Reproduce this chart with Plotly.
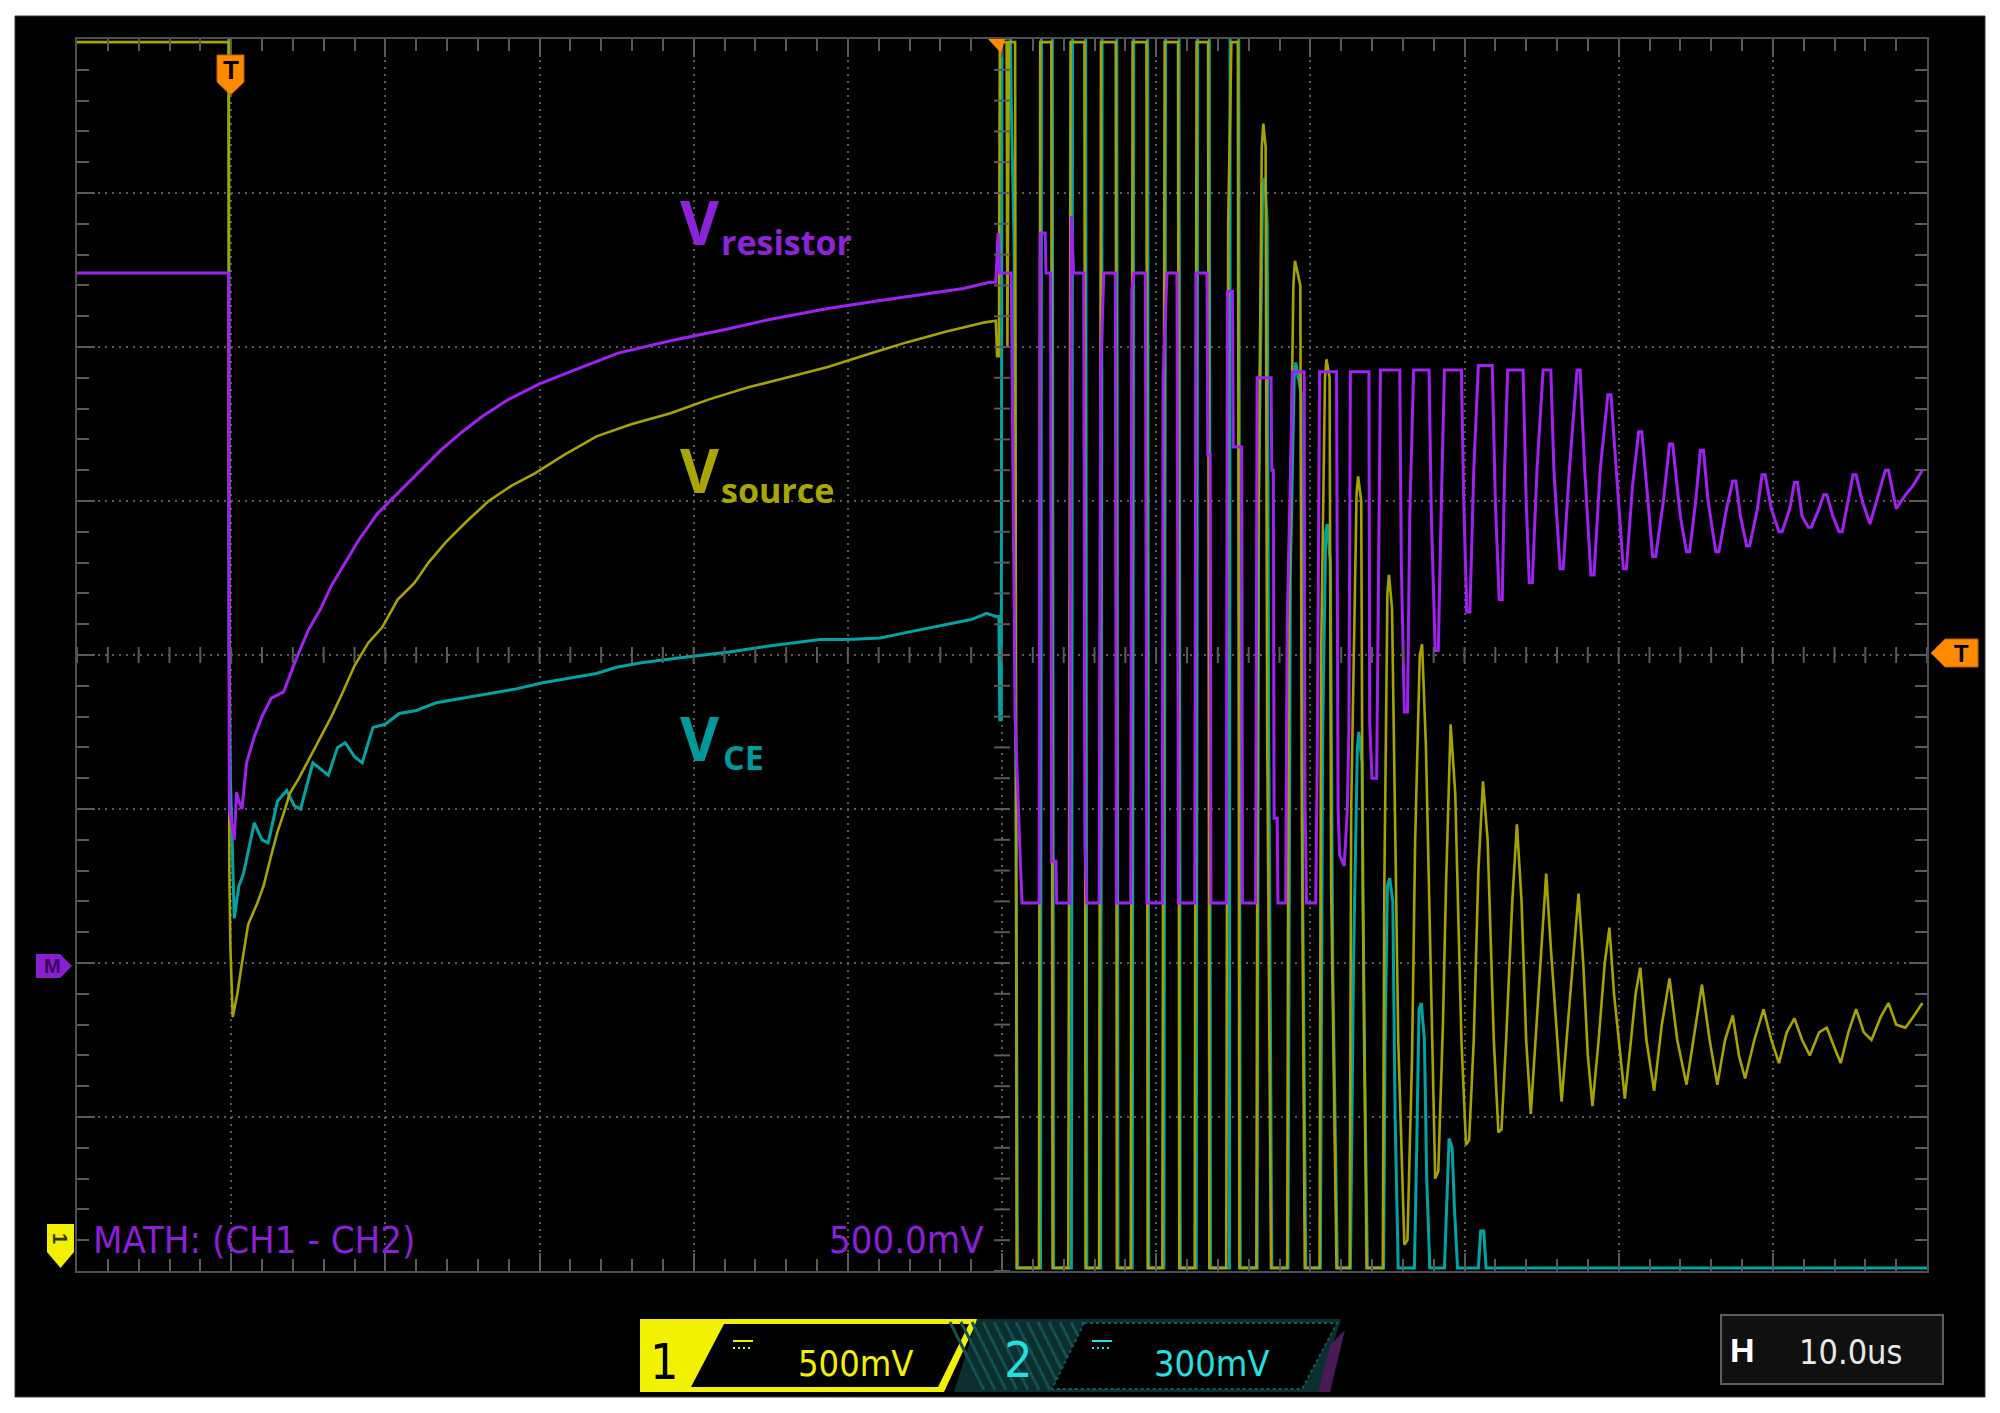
import plotly.graph_objects as go

# ======================
# Oscilloscope capture: 10 us/div (12 div), traces in divisions (8 div)
# ======================

# CH1 - V_source (yellow), (time us, divisions)
vsource_pts = [
    (0.0, 3.98), (9.84, 3.98), (9.88, -1.4), (9.95, -1.9), (10.1, -2.35), (10.4, -2.2),
    (10.7, -2.0), (11.1, -1.75), (11.7, -1.61), (12.1, -1.5), (12.6, -1.3), (13.0, -1.15),
    (13.4, -1.03), (13.8, -0.9), (14.4, -0.8), (15.2, -0.65), (15.8, -0.53), (16.5, -0.4),
    (17.2, -0.25), (18.0, -0.07), (18.9, 0.08), (19.8, 0.18), (20.8, 0.36), (21.9, 0.47),
    (22.8, 0.6), (23.9, 0.73), (25.2, 0.86), (26.7, 1.0), (28.2, 1.1), (29.7, 1.18),
    (31.6, 1.3), (33.7, 1.42), (36.0, 1.5), (38.5, 1.57), (41.0, 1.66), (43.6, 1.74),
    (46.0, 1.8), (48.7, 1.87), (51.2, 1.95), (53.8, 2.03), (56.4, 2.1), (58.9, 2.16),
    (59.6, 2.17), (59.68, 1.94), (59.8, 1.94),
    # switching burst
    (59.86, 3.98), (60.3, 3.98), (60.35, 2.0), (60.45, 3.98), (60.85, 3.98), (60.95, -3.98),
    (62.4, -3.98), (62.48, 3.98), (63.2, 3.98), (63.28, -3.98), (64.3, -3.98), (64.45, 3.98),
    (65.35, 3.98), (65.42, -3.98), (66.3, -3.98), (66.42, 3.98), (67.38, 3.98), (67.45, -3.98),
    (68.35, -3.98), (68.47, 3.98), (69.37, 3.98), (69.45, -3.98), (70.4, -3.98), (70.55, 3.98),
    (71.42, 3.98), (71.5, -3.98), (72.5, -3.98), (72.62, 3.98), (73.37, 3.98), (73.45, -3.98),
    (74.55, -3.98), (74.67, 2.8), (74.88, 3.98), (75.3, 3.98), (75.4, -3.98),
    # damped ringing
    (76.5, -3.98), (76.6, 0.5), (76.85, 3.3), (76.95, 3.45), (77.1, 3.3), (77.2, -0.5),
    (77.45, -3.98), (78.5, -3.98), (78.6, 0.2), (78.9, 2.4), (79.0, 2.56), (79.35, 2.4),
    (79.45, -1.0), (79.64, -3.98), (80.6, -3.98), (80.7, 0.0), (80.95, 1.8), (81.05, 1.92),
    (81.25, 1.8), (81.35, -1.5), (81.7, -3.98), (82.55, -3.98), (82.65, -1.0), (83.0, 1.05),
    (83.1, 1.16), (83.3, 1.0), (83.4, -1.5), (83.65, -3.98), (84.7, -3.98), (84.8, -1.5),
    (85.0, 0.4), (85.1, 0.52), (85.3, 0.3), (85.7, -2.5), (86.1, -3.83), (86.3, -3.8),
    (86.6, -2.6), (86.8, -1.2), (87.1, 0.0), (87.25, 0.07), (87.5, -0.6), (87.9, -2.5),
    (88.1, -3.4), (88.3, -3.35), (88.6, -2.4), (88.8, -1.5), (89.1, -0.45), (89.4, -0.9),
    (89.8, -2.5), (90.1, -3.18), (90.3, -3.15), (90.6, -2.5), (90.9, -1.4), (91.2, -0.82),
    (91.5, -1.2), (91.9, -2.5), (92.2, -3.1), (92.4, -3.08), (92.7, -2.5), (93.1, -1.6),
    (93.4, -1.1), (93.7, -1.6), (94.0, -2.5), (94.3, -2.98), (94.6, -2.5), (95.0, -1.9),
    (95.3, -1.42), (95.6, -1.9), (96.0, -2.5), (96.3, -2.9), (96.7, -2.4), (97.1, -1.9),
    (97.4, -1.55), (97.7, -2.0), (98.0, -2.6), (98.3, -2.93), (98.7, -2.5), (99.1, -2.0),
    (99.4, -1.77), (99.7, -2.2), (100.1, -2.6), (100.4, -2.88), (100.8, -2.5), (101.1, -2.2),
    (101.4, -2.03), (101.8, -2.5), (102.3, -2.83), (102.8, -2.4), (103.3, -2.1), (103.8, -2.5),
    (104.4, -2.79), (104.9, -2.45), (105.4, -2.14), (105.9, -2.5), (106.4, -2.79),
    (106.9, -2.5), (107.4, -2.34), (107.8, -2.6), (108.2, -2.75), (108.8, -2.5),
    (109.4, -2.3), (109.9, -2.5), (110.4, -2.65), (110.9, -2.45), (111.4, -2.36),
    (111.9, -2.5), (112.4, -2.6), (113.0, -2.45), (113.5, -2.42), (114.0, -2.55),
    (114.4, -2.65), (114.9, -2.45), (115.4, -2.3), (115.9, -2.45), (116.4, -2.5),
    (117.0, -2.35), (117.5, -2.26), (118.0, -2.4), (118.6, -2.42), (119.1, -2.35),
    (119.7, -2.26),
]

# CH2 - V_CE (teal)
vce_pts = [
    (0.0, 4.6), (9.84, 4.6), (9.86, 0.12), (9.95, -0.8), (10.2, -1.71), (10.5, -1.5),
    (10.8, -1.42), (11.5, -1.09), (12.0, -1.2), (12.4, -1.22), (13.0, -0.95), (13.6, -0.88),
    (14.1, -0.98), (14.5, -1.0), (15.3, -0.7), (15.8, -0.74), (16.3, -0.78), (16.9, -0.6),
    (17.4, -0.57), (18.0, -0.66), (18.5, -0.7), (19.2, -0.47), (20.0, -0.45), (20.9, -0.38),
    (22.0, -0.36), (23.3, -0.31), (25.0, -0.28), (26.7, -0.25), (28.5, -0.22), (30.2, -0.18),
    (32.0, -0.15), (33.7, -0.12), (35.0, -0.08), (36.6, -0.05), (39.0, -0.02), (42.3, 0.02),
    (45.0, 0.06), (48.2, 0.1), (50.0, 0.1), (52.1, 0.11), (54.0, 0.15), (56.0, 0.19),
    (58.0, 0.23), (59.0, 0.27), (59.6, 0.25), (59.8, 0.25), (59.86, -0.42), (59.95, -0.42),
    (60.0, 4.5), (60.5, 4.5), (60.6, 3.57), (60.8, 2.6), (60.9, -0.6), (61.0, -3.98),
    (62.5, -3.98), (62.56, 4.5), (63.26, 4.5), (63.34, -3.98), (64.5, -3.98), (64.58, 4.5),
    (65.42, 4.5), (65.5, -3.98), (66.4, -3.98), (66.5, 4.5), (67.44, 4.5), (67.52, -3.98),
    (68.45, -3.98), (68.55, 4.5), (69.44, 4.5), (69.52, -3.98), (70.5, -3.98), (70.62, 4.5),
    (71.48, 4.5), (71.56, -3.98), (72.6, -3.98), (72.7, 4.5), (73.44, 4.5), (73.52, -3.98),
    (74.75, -3.98), (74.8, 4.5), (75.35, 4.5), (75.45, -3.98), (76.55, -3.98), (76.65, 1.0),
    (76.9, 3.0), (77.05, 3.1), (77.2, 2.8), (77.3, -0.5), (77.5, -3.98), (78.55, -3.98),
    (78.7, 0.5), (78.95, 1.8), (79.05, 1.9), (79.4, 1.7), (79.5, -1.5), (79.7, -3.98),
    (80.65, -3.98), (80.8, -0.5), (81.0, 0.8), (81.1, 0.85), (81.3, 0.6), (81.45, -2.0),
    (81.75, -3.98), (82.6, -3.98), (82.8, -2.0), (83.05, -0.6), (83.15, -0.5), (83.35, -0.7),
    (83.5, -2.5), (83.7, -3.98), (84.75, -3.98), (84.85, -2.5), (85.0, -1.5), (85.15, -1.45),
    (85.35, -1.6), (85.5, -3.0), (85.7, -3.98), (86.75, -3.98), (86.9, -3.2), (87.05, -2.3),
    (87.2, -2.26), (87.4, -2.5), (87.55, -3.4), (87.75, -3.98), (88.7, -3.98), (88.85, -3.6),
    (89.0, -3.14), (89.2, -3.2), (89.35, -3.6), (89.55, -3.98), (90.9, -3.98), (91.05, -3.74),
    (91.25, -3.74), (91.4, -3.98), (120.0, -3.98),
]

# MATH (CH1 - CH2) - V_resistor (purple)
vres_pts = [
    (0.0, 2.48), (9.84, 2.48), (9.88, -1.0), (10.2, -1.2), (10.35, -0.89), (10.5, -0.95),
    (10.7, -1.0), (11.0, -0.7), (11.5, -0.53), (12.0, -0.4), (12.6, -0.28), (13.4, -0.24),
    (14.2, -0.03), (15.0, 0.16), (15.8, 0.3), (16.5, 0.45), (17.1, 0.55), (18.3, 0.75),
    (19.5, 0.92), (21.2, 1.09), (22.5, 1.22), (23.6, 1.33), (25.0, 1.45), (26.3, 1.55),
    (28.0, 1.66), (30.0, 1.76), (32.5, 1.86), (35.1, 1.96), (38.5, 2.04), (41.9, 2.11),
    (45.0, 2.18), (48.7, 2.25), (52.0, 2.3), (55.4, 2.35), (57.5, 2.38), (59.2, 2.42),
    (59.6, 2.42), (59.75, 2.74), (59.85, 2.48),
    # switching burst
    (60.6, 2.48), (60.7, 1.4), (60.85, -0.4), (61.2, -1.37), (61.3, -1.61), (62.41, -1.61),
    (62.48, 2.74), (62.8, 2.74), (62.85, 2.48), (63.15, 2.48), (63.22, -1.34), (63.5, -1.34),
    (63.55, -1.61), (64.4, -1.61), (64.5, 2.85), (64.65, 2.48), (65.3, 2.48), (65.38, -1.22),
    (65.5, -1.61), (66.3, -1.61), (66.4, 1.84), (66.6, 2.48), (67.35, 2.48), (67.42, -1.61),
    (68.35, -1.61), (68.42, 2.36), (68.55, 2.48), (69.3, 2.48), (69.4, -1.61), (70.4, -1.61),
    (70.45, 1.8), (70.7, 2.48), (71.35, 2.48), (71.45, -1.61), (72.5, -1.61), (72.58, 2.48),
    (73.3, 2.48), (73.35, 1.3), (73.5, 1.3), (73.55, -1.61), (74.55, -1.61), (74.62, 2.36),
    (74.95, 2.36), (75.0, 1.35), (75.55, 1.35), (75.6, -1.61),
    # damped ringing
    (76.45, -1.61), (76.55, 1.8), (77.45, 1.8), (77.5, 1.2), (77.6, 1.2), (77.65, -1.06),
    (77.85, -1.06), (77.9, -1.61), (78.4, -1.61), (78.5, 0.2), (78.7, 1.23), (78.85, 1.84),
    (79.6, 1.84), (79.65, -0.9), (79.75, -1.61), (80.35, -1.61), (80.45, -0.67), (80.6, 1.84),
    (81.7, 1.84), (81.8, -1.0), (81.9, -1.3), (82.2, -1.37), (82.4, -1.0), (82.5, -0.48),
    (82.6, 1.84), (83.8, 1.84), (83.85, -0.44), (84.0, -0.8), (84.3, -0.8), (84.45, 1.0),
    (84.55, 1.85), (85.8, 1.85), (85.9, 0.6), (86.1, -0.37), (86.3, -0.37), (86.45, 0.9),
    (86.7, 1.85), (87.7, 1.85), (87.85, 0.9), (88.1, 0.03), (88.3, 0.03), (88.5, 1.0),
    (88.7, 1.85), (89.8, 1.85), (89.95, 1.0), (90.15, 0.28), (90.35, 0.28), (90.6, 1.2),
    (90.9, 1.88), (91.8, 1.88), (92.0, 1.0), (92.25, 0.36), (92.45, 0.36), (92.6, 1.2),
    (92.8, 1.85), (93.8, 1.85), (94.0, 1.0), (94.2, 0.47), (94.4, 0.47), (94.7, 1.2),
    (95.1, 1.85), (95.6, 1.85), (95.8, 1.2), (96.2, 0.56), (96.4, 0.56), (96.8, 1.2),
    (97.3, 1.85), (97.5, 1.85), (97.8, 1.2), (98.2, 0.52), (98.4, 0.52), (98.8, 1.2),
    (99.3, 1.69), (99.5, 1.69), (99.9, 1.1), (100.3, 0.56), (100.5, 0.56), (100.9, 1.1),
    (101.3, 1.45), (101.5, 1.45), (101.9, 1.0), (102.2, 0.64), (102.4, 0.64), (102.9, 1.0),
    (103.3, 1.37), (103.5, 1.37), (104.0, 0.9), (104.4, 0.67), (104.6, 0.67), (105.0, 1.0),
    (105.3, 1.33), (105.5, 1.33), (105.8, 1.0), (106.3, 0.67), (106.5, 0.67), (107.0, 0.95),
    (107.4, 1.13), (107.6, 1.13), (107.9, 0.9), (108.3, 0.71), (108.5, 0.71), (109.0, 0.95),
    (109.3, 1.17), (109.5, 1.17), (109.9, 0.95), (110.4, 0.8), (110.6, 0.8), (111.1, 0.95),
    (111.4, 1.12), (111.6, 1.12), (111.9, 0.9), (112.3, 0.83), (112.5, 0.83), (113.0, 0.95),
    (113.3, 1.04), (113.5, 1.04), (113.9, 0.9), (114.3, 0.8), (114.5, 0.8), (114.9, 1.0),
    (115.2, 1.17), (115.4, 1.17), (115.8, 1.0), (116.3, 0.85), (116.9, 1.05), (117.3, 1.2),
    (117.5, 1.2), (118.0, 0.95), (118.6, 1.04), (119.1, 1.1), (119.7, 1.2),
]

YELLOW = "#a6a300"
TEAL = "#00a3a3"
PURPLE = "#a020f0"
GRID = "#5a5a5a"

# figure pixel box of the graticule
PL, PR, PT, PB = 77, 1927, 39, 1271


def px(x):
    return (x - PL) / (PR - PL)


def py(y):
    return (PB - y) / (PB - PT)


def path(points):
    return "M " + " L ".join(f"{px(x):.5f},{py(y):.5f}" for x, y in points) + " Z"


fig = go.Figure()

for pts, color, width in [(vce_pts, TEAL, 3), (vsource_pts, YELLOW, 2.6), (vres_pts, PURPLE, 3)]:
    fig.add_trace(go.Scatter(
        x=[p[0] for p in pts], y=[p[1] for p in pts],
        mode="lines", line=dict(color=color, width=width),
        showlegend=False, hoverinfo="skip",
    ))

shapes = []
# black screen
shapes.append(dict(type="rect", xref="paper", yref="paper", layer="below",
                   x0=px(15), x1=px(1985), y0=py(1397), y1=py(16),
                   fillcolor="black", line=dict(color="#3a3a3a", width=1)))

# ticks on the centre lines
for k in range(61):
    shapes.append(dict(type="line", xref="x", yref="y", ysizemode="pixel", yanchor=0,
                       x0=2 * k, x1=2 * k, y0=-8, y1=8, line=dict(color=GRID, width=2)))
for k in range(41):
    shapes.append(dict(type="line", xref="x", yref="y", xsizemode="pixel", xanchor=60,
                       x0=-8, x1=8, y0=-4 + 0.2 * k, y1=-4 + 0.2 * k, line=dict(color=GRID, width=2)))

ORANGE = "#ff8a00"
# trigger markers
shapes.append(dict(type="path", xref="paper", yref="paper",
                   path=path([(217, 55), (244, 55), (244, 82), (230.5, 95), (217, 82)]),
                   fillcolor=ORANGE, line=dict(color="#c06000", width=1)))
shapes.append(dict(type="path", xref="paper", yref="paper",
                   path=path([(988, 39), (1005, 39), (1001, 53)]),
                   fillcolor=ORANGE, line=dict(width=0)))
shapes.append(dict(type="path", xref="paper", yref="paper",
                   path=path([(1931, 653), (1945, 639), (1978, 639), (1978, 667), (1945, 667)]),
                   fillcolor=ORANGE, line=dict(color="#c06000", width=1)))
# math marker
shapes.append(dict(type="path", xref="paper", yref="paper",
                   path=path([(36, 954), (60, 954), (72, 966), (60, 978), (36, 978)]),
                   fillcolor="#8a1fd0", line=dict(width=0)))
# CH1 ground marker
shapes.append(dict(type="path", xref="paper", yref="paper",
                   path=path([(47, 1224), (74, 1224), (74, 1252), (60.5, 1268), (47, 1252)]),
                   fillcolor="#f0f000", line=dict(width=0)))

# CH1 box
shapes.append(dict(type="path", xref="paper", yref="paper",
                   path=path([(640, 1319), (978, 1319), (944, 1392), (640, 1392)]),
                   fillcolor="#f2f200", line=dict(width=0)))
shapes.append(dict(type="path", xref="paper", yref="paper",
                   path=path([(724, 1324), (969, 1324), (938, 1387), (691, 1387)]),
                   fillcolor="black", line=dict(width=0)))
# CH2 box
shapes.append(dict(type="path", xref="paper", yref="paper",
                   path=path([(977, 1319), (1341, 1319), (1318, 1392), (954, 1392)]),
                   fillcolor="#0b2e2e", line=dict(width=0)))
for k in range(13):
    x0 = 950 + 11 * k
    shapes.append(dict(type="line", xref="paper", yref="paper",
                       x0=px(x0), x1=px(x0 + 34), y0=py(1322), y1=py(1390),
                       line=dict(color="#145050", width=3)))
shapes.append(dict(type="path", xref="paper", yref="paper",
                   path=path([(1084, 1323), (1337, 1323), (1302, 1389), (1052, 1389)]),
                   fillcolor="black", line=dict(color="#135a5a", width=2, dash="dot")))
shapes.append(dict(type="path", xref="paper", yref="paper",
                   path=path([(1330, 1345), (1345, 1330), (1330, 1392), (1318, 1392)]),
                   fillcolor="#4a1a55", line=dict(width=0)))
# coupling symbols
for x0, col in [(733, "#f2f200"), (1092, "#20e0e0")]:
    shapes.append(dict(type="line", xref="paper", yref="paper", x0=px(x0), x1=px(x0 + 20),
                       y0=py(1341), y1=py(1341), line=dict(color=col, width=2)))
    shapes.append(dict(type="line", xref="paper", yref="paper", x0=px(x0), x1=px(x0 + 20),
                       y0=py(1348), y1=py(1348), line=dict(color=col, width=2, dash="2px,3px")))
# timebase box
shapes.append(dict(type="rect", xref="paper", yref="paper",
                   x0=px(1721), x1=px(1943), y0=py(1384), y1=py(1315),
                   fillcolor="#101010", line=dict(color="#5e5e5e", width=2)))

SCOPE_FONT = "Liberation Sans Narrow, DejaVu Sans Condensed, Liberation Sans, sans-serif"
LABEL_FONT = "Open Sans, Noto Sans, sans-serif"


def note(x, y, text, size, color, family=SCOPE_FONT, xanchor="center", weight="normal", angle=0):
    return dict(xref="paper", yref="paper", x=px(x), y=py(y), text=text, showarrow=False,
                xanchor=xanchor, yanchor="middle", textangle=angle,
                font=dict(family=family, size=size, color=color, weight=weight))


annotations = [
    note(678, 222, "V", 60, "#8e22d8", LABEL_FONT, "left", "bold"),
    note(719, 242, "resistor", 34, "#8e22d8", LABEL_FONT, "left", "bold"),
    note(678, 470, "V", 60, "#a8a600", LABEL_FONT, "left", "bold"),
    note(719, 490, "source", 34, "#a8a600", LABEL_FONT, "left", "bold"),
    note(678, 738, "V", 60, "#009999", LABEL_FONT, "left", "bold"),
    note(721, 757, "CE", 34, "#009999", LABEL_FONT, "left", "bold"),
    note(91, 1240, "MATH: (CH1 - CH2)", 38, "#8a1fd6", xanchor="left"),
    note(986, 1240, "500.0mV", 38, "#8a1fd6", xanchor="right"),
    note(231, 70, "T", 26, "black", "Liberation Sans", weight="bold"),
    note(1961, 653, "T", 24, "black", "Liberation Sans", weight="bold"),
    note(52, 966, "M", 20, "#3a0060", "Liberation Sans", weight="bold"),
    note(60, 1238, "1", 20, "#303000", "Liberation Sans", weight="bold", angle=90),
    note(664, 1362, "1", 50, "black"),
    note(856, 1363, "500mV", 36, "#f2f200"),
    note(1018, 1360, "2", 50, "#20e0e0"),
    note(1212, 1363, "300mV", 36, "#20e0e0"),
    note(1742, 1350, "H", 34, "white", "Liberation Sans", weight="bold"),
    note(1850, 1352, "10.0us", 34, "#e8e8e8"),
]

axis_common = dict(
    showgrid=True, gridcolor=GRID, gridwidth=2, griddash="2px,5px",
    showline=True, linecolor="#4e4e4e", linewidth=2, mirror="ticks",
    ticks="inside", ticklen=18, tickwidth=2, tickcolor=GRID,
    showticklabels=False, zeroline=False, fixedrange=True,
)

fig.update_layout(
    width=2000, height=1413, autosize=False,
    margin=dict(l=PL, r=2000 - PR, t=PT, b=1413 - PB, pad=0),
    paper_bgcolor="white", plot_bgcolor="black",
    xaxis=dict(range=[0, 120], dtick=10, tick0=0,
               minor=dict(dtick=2, ticks="inside", ticklen=12, tickwidth=2, tickcolor=GRID),
               **axis_common),
    yaxis=dict(range=[-4, 4], dtick=1, tick0=0,
               minor=dict(dtick=0.2, ticks="inside", ticklen=12, tickwidth=2, tickcolor=GRID),
               **axis_common),
    shapes=shapes,
    annotations=annotations,
)

# page body margin off, so the figure sits at the window's top-left corner
fig.write_html("out.html", config={"displayModeBar": False},
               post_script="document.body.style.margin='0';")
